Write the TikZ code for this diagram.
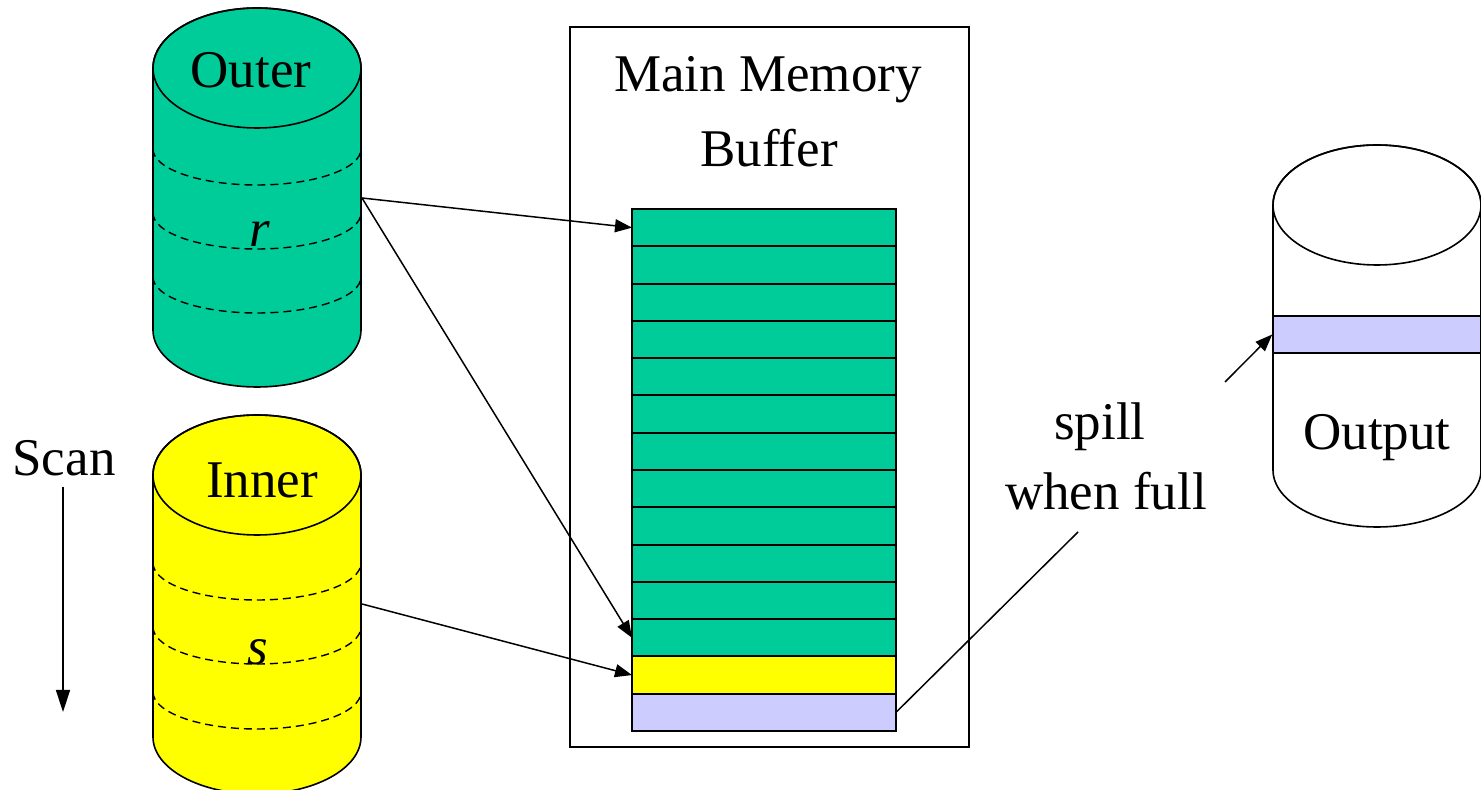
\documentclass[tikz,border=0pt]{standalone}
\usepackage{fontspec}
\setmainfont{Liberation Serif}
\usetikzlibrary{arrows.meta}
\definecolor{diskgreen}{RGB}{0,204,153}
\definecolor{diskyellow}{RGB}{255,255,0}
\definecolor{lavender}{RGB}{204,204,255}
\tikzset{
  lbl/.style={font=\fontsize{53}{60}\selectfont, inner sep=0pt, anchor=base},
  outline/.style={draw=black, line width=1.6pt},
  sep/.style={draw=black, line width=1.4pt, dash pattern=on 8pt off 5pt},
  rowbox/.style={draw=black, line width=2pt, minimum width=264pt, minimum height=37.29pt, inner sep=0pt, outer sep=0pt},
  conn/.style={draw=black, line width=1.5pt, -{Triangle[length=17pt,width=13pt]}},
  plain/.style={draw=black, line width=1.5pt}
}
\begin{document}
\begin{tikzpicture}[x=1pt, y=1pt]
\useasboundingbox (0,0) rectangle (1481,790);

% Outer relation disk
\path[outline, fill=diskgreen] (153,722) -- (153,460)
  arc[start angle=180, end angle=360, x radius=104, y radius=57]
  -- (361,722) arc[start angle=0, end angle=180, x radius=104, y radius=60] -- cycle;
\draw[outline] (257,722) ellipse[x radius=104, y radius=60];
\foreach \yy in {641,577,513}
  \draw[sep] (153,\yy) arc[start angle=180, end angle=360, x radius=104, y radius=36];
\node[lbl] (outer) at (251,702) {Outer};
\node[lbl] (r) at (260,543) {\itshape r};
\coordinate (outA) at (362,592);

% Inner relation disk
\path[outline, fill=diskyellow] (153,315) -- (153,53)
  arc[start angle=180, end angle=360, x radius=104, y radius=57]
  -- (361,315) arc[start angle=0, end angle=180, x radius=104, y radius=60] -- cycle;
\draw[outline] (257,315) ellipse[x radius=104, y radius=60];
\foreach \yy in {227,163,98}
  \draw[sep] (153,\yy) arc[start angle=180, end angle=360, x radius=104, y radius=37];
\node[lbl] (inner) at (262,292) {Inner};
\node[lbl] (s) at (258,125) {\itshape s};
\coordinate (inA) at (362,186);

% Scan direction
\node[lbl] (scan) at (64,314) {Scan};
\coordinate (scanTop) at (63,303);
\coordinate (scanBot) at (63,78);
\draw[plain, -{Triangle[length=22pt,width=14pt]}] (scanTop) -- (scanBot);

% Main memory buffer
\node[draw=black, line width=1.6pt, minimum width=399pt, minimum height=720pt, inner sep=0pt] (mem) at (769.5,403) {};
\node[lbl] (memA) at (768,698) {Main Memory};
\node[lbl] (memB) at (769,623) {Buffer};
\foreach \i in {1,...,12}
  \node[rowbox, fill=diskgreen] (b\i) at (764,{581-(\i-0.5)*37.2857}) {};
\node[rowbox, fill=diskyellow] (b13) at (764,{581-12.5*37.2857}) {};
\node[rowbox, fill=lavender] (b14) at (764,{581-13.5*37.2857}) {};

% Output disk
\path[outline, fill=white] (1273,585) -- (1273,320)
  arc[start angle=180, end angle=360, x radius=104, y radius=57]
  -- (1481,585) arc[start angle=0, end angle=180, x radius=104, y radius=60] -- cycle;
\draw[outline] (1377,585) ellipse[x radius=104, y radius=60];
\node[draw=black, line width=1.6pt, fill=lavender, minimum width=208pt, minimum height=37pt, inner sep=0pt] (band) at (1377,455.5) {};
\node[lbl] (output) at (1377,340) {Output};

% Spill label
\node[lbl] (spill) at (1100,350) {spill};
\node[lbl] (whenfull) at (1106,280) {when full};
\coordinate (spillA) at (1078,258);
\coordinate (spillB) at (1225,408);

% Connectors
\draw[conn] (outA) -- (b1.west);
\draw[conn] (outA) -- (b12.west);
\draw[conn] (inA) -- (b13.west);
\draw[plain] (b14.east) -- (spillA);
\draw[conn] (spillB) -- (band.west);
\end{tikzpicture}
\end{document}
